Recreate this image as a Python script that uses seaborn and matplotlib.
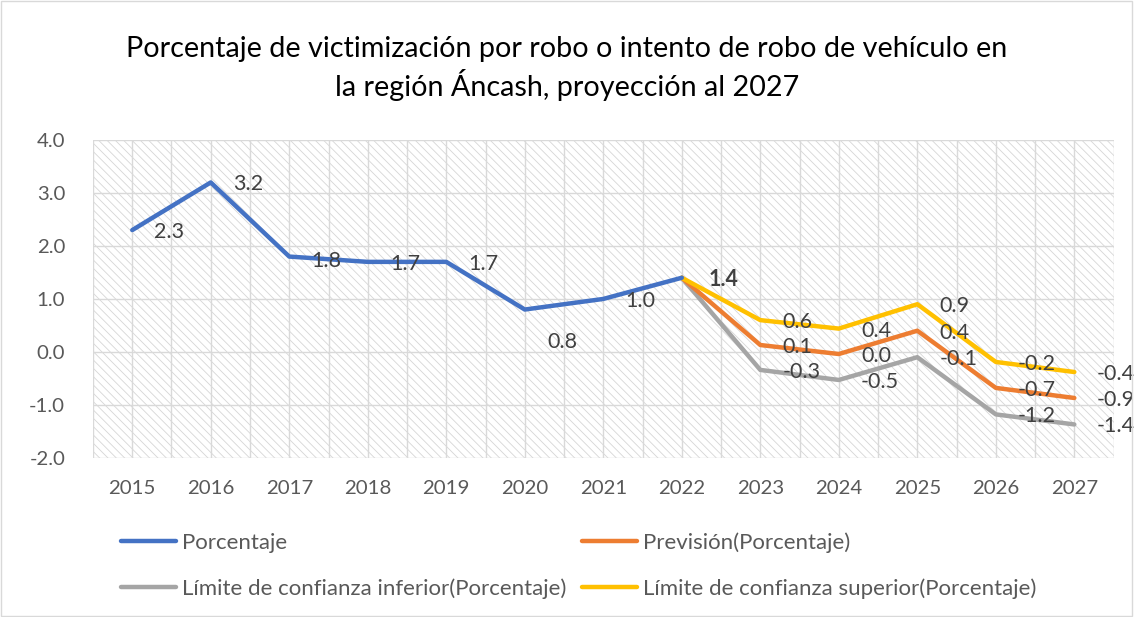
import numpy as np
import matplotlib
matplotlib.use("Agg")
import matplotlib.pyplot as plt
import seaborn as sns
from matplotlib.patches import Rectangle

years = [2015, 2016, 2017, 2018, 2019, 2020, 2021, 2022, 2023, 2024, 2025, 2026, 2027]
porcentaje = [2.3, 3.2, 1.8, 1.7, 1.7, 0.8, 1.0, 1.4]          # 2015-2022
prevision = [1.4, 0.13, -0.04, 0.4, -0.68, -0.87]               # 2022-2027
lim_inferior = [1.4, -0.34, -0.53, -0.1, -1.18, -1.37]
lim_superior = [1.4, 0.6, 0.44, 0.9, -0.19, -0.38]

title = "Porcentaje de victimización por robo o intento de robo de vehículo en\nla región Áncash, proyección al 2027"
names = ["Porcentaje", "Previsión(Porcentaje)",
         "Límite de confianza inferior(Porcentaje)", "Límite de confianza superior(Porcentaje)"]
colors = ["#4472C4", "#ED7D31", "#A5A5A5", "#FFC000"]

# extra downward shift (px) of the Porcentaje labels, as placed in the original
label_drop = [0, 0, 2, 0, 0, 30, 0, 0]

sns.set_style("white")
plt.rcParams["font.family"] = ["Lato", "DejaVu Sans"]
plt.rcParams["hatch.linewidth"] = 0.6

TXT = "#595959"
PX = 0.72  # points per pixel at dpi 100

fig = plt.figure(figsize=(11.34, 6.17), dpi=100)
ax = fig.add_axes([0.082, 0.258, 0.9, 0.515])

# hatched plot area
ax.add_patch(Rectangle((0, 0), 1, 1, transform=ax.transAxes, facecolor="none",
                       edgecolor="#D6D6D6", hatch="\\\\\\\\", linewidth=0, zorder=0))

n_hist = len(porcentaje)
x_hist = np.arange(n_hist)
x_fc = np.arange(n_hist - 1, len(years))

sns.lineplot(x=x_fc, y=lim_inferior, ax=ax, color=colors[2], linewidth=3.2, label=names[2], zorder=3)
sns.lineplot(x=x_fc, y=prevision, ax=ax, color=colors[1], linewidth=3.2, label=names[1], zorder=4)
sns.lineplot(x=x_fc, y=lim_superior, ax=ax, color=colors[3], linewidth=3.2, label=names[3], zorder=5)
sns.lineplot(x=x_hist, y=porcentaje, ax=ax, color=colors[0], linewidth=3.2, label=names[0], zorder=6)


def fmt(v):
    s = f"{v:.1f}"
    return "0.0" if s == "-0.0" else s


for i, v in enumerate(porcentaje):
    bold = i == n_hist - 1
    ax.annotate(fmt(v), (x_hist[i], v), xytext=(16 if not bold else 19, -(2 + label_drop[i]) * PX),
                textcoords="offset points", ha="left", va="center", fontsize=15.5,
                color="#404040", fontweight="bold" if bold else "normal", zorder=7)

for series in (prevision, lim_inferior, lim_superior):
    for i in range(1, len(series)):
        ax.annotate(fmt(series[i]), (x_fc[i], series[i]), xytext=(16, -2 * PX),
                    textcoords="offset points", ha="left", va="center", fontsize=15.5,
                    color="#404040", zorder=7)

ax.set_xlim(-0.5, len(years) - 0.5)
ax.set_ylim(-2, 4)
ax.set_xticks(range(len(years)))
ax.set_xticklabels([str(y) for y in years])
ax.set_xticks(np.arange(-0.5, len(years), 1), minor=True)
ax.set_yticks(np.arange(-2, 4.1, 1))
ax.set_yticklabels([f"{t:.1f}" for t in np.arange(-2, 4.1, 1)])
ax.grid(True, which="major", color="#D9D9D9", linewidth=1)
ax.grid(True, which="minor", axis="x", color="#D9D9D9", linewidth=1)
ax.set_axisbelow(True)
ax.tick_params(which="both", length=0, labelsize=14.7, labelcolor=TXT)
ax.tick_params(axis="x", pad=16)
ax.tick_params(axis="y", pad=20)
for s in ax.spines.values():
    s.set_visible(False)
ax.set_xlabel("")
ax.set_ylabel("")

fig.suptitle(title, fontsize=20.7, color="black", y=0.942, linespacing=1.28)

handles, labels = ax.get_legend_handles_labels()
order = [labels.index(names[0]), labels.index(names[2]), labels.index(names[1]), labels.index(names[3])]
ax.get_legend().remove()
fig.legend([handles[i] for i in order], [labels[i] for i in order], ncol=2,
           loc="center", bbox_to_anchor=(0.51, 0.083), frameon=False, fontsize=16,
           labelcolor=TXT, handlelength=2.5, handletextpad=0.25, columnspacing=0.7,
           labelspacing=1.15)

# chart border
fig.add_artist(Rectangle((0.001, 0.001), 0.997, 0.997, transform=fig.transFigure,
                         facecolor="none", edgecolor="#D9D9D9", linewidth=1))

fig.savefig("out.png", dpi=100)
